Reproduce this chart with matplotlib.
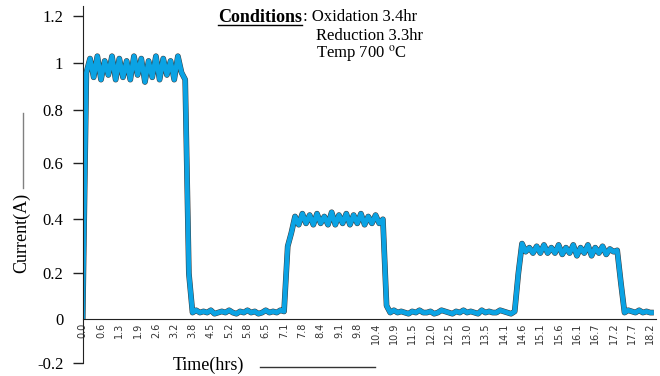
import numpy as np
import matplotlib
matplotlib.use("Agg")
import matplotlib.pyplot as plt
import matplotlib.patheffects as pe
from matplotlib.lines import Line2D

plt.rcParams['mathtext.fontset'] = 'stix'

# category labels of the time axis (one label every 5 samples)
time_labels = ['0.0', '0.6', '1.3', '1.9', '2.6', '3.2', '3.8', '4.5', '5.2', '5.8',
               '6.5', '7.1', '7.8', '8.4', '9.1', '9.8', '10.4', '10.9', '11.5', '12.0',
               '12.5', '13.0', '13.5', '14.1', '14.6', '15.1', '15.6', '16.1', '16.7',
               '17.2', '17.7', '18.2']

# current readings (A)
start = [0.0]
oxid1 = [0.96, 1.02, 0.94, 1.03, 0.93, 1.01, 0.95, 1.03, 0.93, 1.02, 0.94, 1.01, 0.93,
         1.03, 0.95, 1.02, 0.92, 1.01, 0.94, 1.03, 0.93, 1.02, 0.95, 1.01, 0.93, 1.03, 0.96]
drop1 = [0.93, 0.20]
red1 = [0.03, 0.04, 0.03, 0.035, 0.03, 0.04, 0.025, 0.03, 0.035, 0.03, 0.04, 0.03, 0.025,
        0.035, 0.03, 0.04, 0.03, 0.035, 0.025, 0.03, 0.04, 0.03, 0.035, 0.03, 0.04, 0.035]
rise2 = [0.30, 0.35]
oxid2 = [0.41, 0.38, 0.42, 0.385, 0.415, 0.38, 0.42, 0.385, 0.41, 0.38, 0.425, 0.38, 0.415,
         0.385, 0.42, 0.38, 0.415, 0.385, 0.42, 0.38, 0.41, 0.385, 0.415, 0.385, 0.40]
drop2 = [0.06]
red2 = [0.03, 0.04, 0.03, 0.035, 0.03, 0.025, 0.035, 0.03, 0.04, 0.03, 0.03, 0.035, 0.025,
        0.03, 0.04, 0.035, 0.03, 0.025, 0.035, 0.03, 0.04, 0.03, 0.035, 0.03, 0.025, 0.04,
        0.03, 0.035, 0.03, 0.03, 0.04, 0.035, 0.03, 0.025, 0.035]
rise3 = [0.20]
oxid3 = [0.31, 0.28, 0.295, 0.275, 0.30, 0.275, 0.305, 0.275, 0.295, 0.275, 0.305, 0.27,
         0.295, 0.275, 0.305, 0.265, 0.295, 0.275, 0.305, 0.265, 0.295, 0.275, 0.30, 0.27,
         0.29, 0.28, 0.285]
drop3 = [0.16]
red3 = [0.03, 0.04, 0.035, 0.03, 0.04, 0.03, 0.035, 0.03, 0.03]

current = np.array(start + oxid1 + drop1 + red1 + rise2 + oxid2 + drop2 + red2
                   + rise3 + oxid3 + drop3 + red3)
sample = np.arange(len(current))

yticks = [-0.2, 0, 0.2, 0.4, 0.6, 0.8, 1.0, 1.2]
ytick_labels = ['-0.2', '0', '0.2', '0.4', '0.6', '0.8', '1', '1.2']

# the printed axis is not evenly spaced: map values onto the reference pixel rows
scale_vals = np.array(yticks + [1.24])
scale_pix = -np.array([362.7, 319.5, 273.3, 219.3, 163.0, 110.0, 63.3, 16.0, 6.5])

def fwd(v):
    return np.interp(v, scale_vals, scale_pix)

def inv(p):
    return np.interp(p, scale_pix, scale_vals)

W, H = 660, 376
fig = plt.figure(figsize=(6.6, 3.76), dpi=100)
ax = fig.add_axes([82.7 / W, 1 - 362.7 / H, (656 - 82.7) / W, (362.7 - 6.5) / H])
ax.set_yscale('function', functions=(fwd, inv))

blue = '#0ba3e4'
ax.plot(sample, current, color=blue, lw=3.4, solid_joinstyle='round',
        solid_capstyle='butt',
        path_effects=[pe.Stroke(linewidth=4.1, foreground='#3a3a3a'), pe.Normal()])

ax.set_xlim(0, 156.6)
ax.set_ylim(-0.2, 1.24)

for s in ['top', 'right']:
    ax.spines[s].set_visible(False)
ax.spines['bottom'].set_position(('data', 0))
ax.spines['bottom'].set_color('#222222')
ax.spines['left'].set_color('#222222')

ax.set_xticks(np.arange(len(time_labels)) * 5)
ax.set_xticklabels(time_labels, rotation=90, fontsize=7, color='#333333')
ax.tick_params(axis='x', length=0, pad=2)

ax.set_yticks(yticks)
ax.set_yticklabels(ytick_labels, family='Liberation Serif', fontsize=12)
ax.tick_params(axis='y', length=7.5, width=1, pad=6.5, color='#222222')
ax.yaxis.get_major_ticks()[1].tick1line.set_visible(False)

# axis titles with their little rules, as in the original
fig.text(21.7 / W, 1 - 233 / H, 'Current(A)', rotation=90, ha='center', va='center',
         family='Liberation Serif', fontsize=13)
fig.add_artist(Line2D([23.3 / W, 23.3 / W], [1 - 113 / H, 1 - 188 / H],
                      transform=fig.transFigure, color='#808080', lw=1))
fig.text(208 / W, 1 - 365 / H, 'Time(hrs)', ha='center', va='center',
         family='Liberation Serif', fontsize=13)
fig.add_artist(Line2D([260 / W, 375 / W], [1 - 366.7 / H, 1 - 366.7 / H],
                      transform=fig.transFigure, color='#333333', lw=1))

# conditions box
cond = fig.text(218 / W, 1 - 17 / H, 'Conditions', ha='left', va='center',
                family='Liberation Serif', fontsize=13, fontweight='bold')
fig.text(303 / W, 1 - 17 / H, ': Oxidation 3.4hr', ha='left', va='center',
         family='Liberation Serif', fontsize=12)
fig.text(316 / W, 1 - 36 / H, 'Reduction 3.3hr', ha='left', va='center',
         family='Liberation Serif', fontsize=12)
fig.text(316 / W, 1 - 54 / H, r'Temp 700 $^{\mathrm{o}}$C', ha='left', va='center',
         family='Liberation Serif', fontsize=12)

fig.canvas.draw()
bb = cond.get_window_extent().transformed(fig.transFigure.inverted())
fig.add_artist(Line2D([bb.x0, bb.x1], [1 - 25 / H, 1 - 25 / H],
                      transform=fig.transFigure, color='black', lw=1))

fig.savefig('out.png', dpi=100)
